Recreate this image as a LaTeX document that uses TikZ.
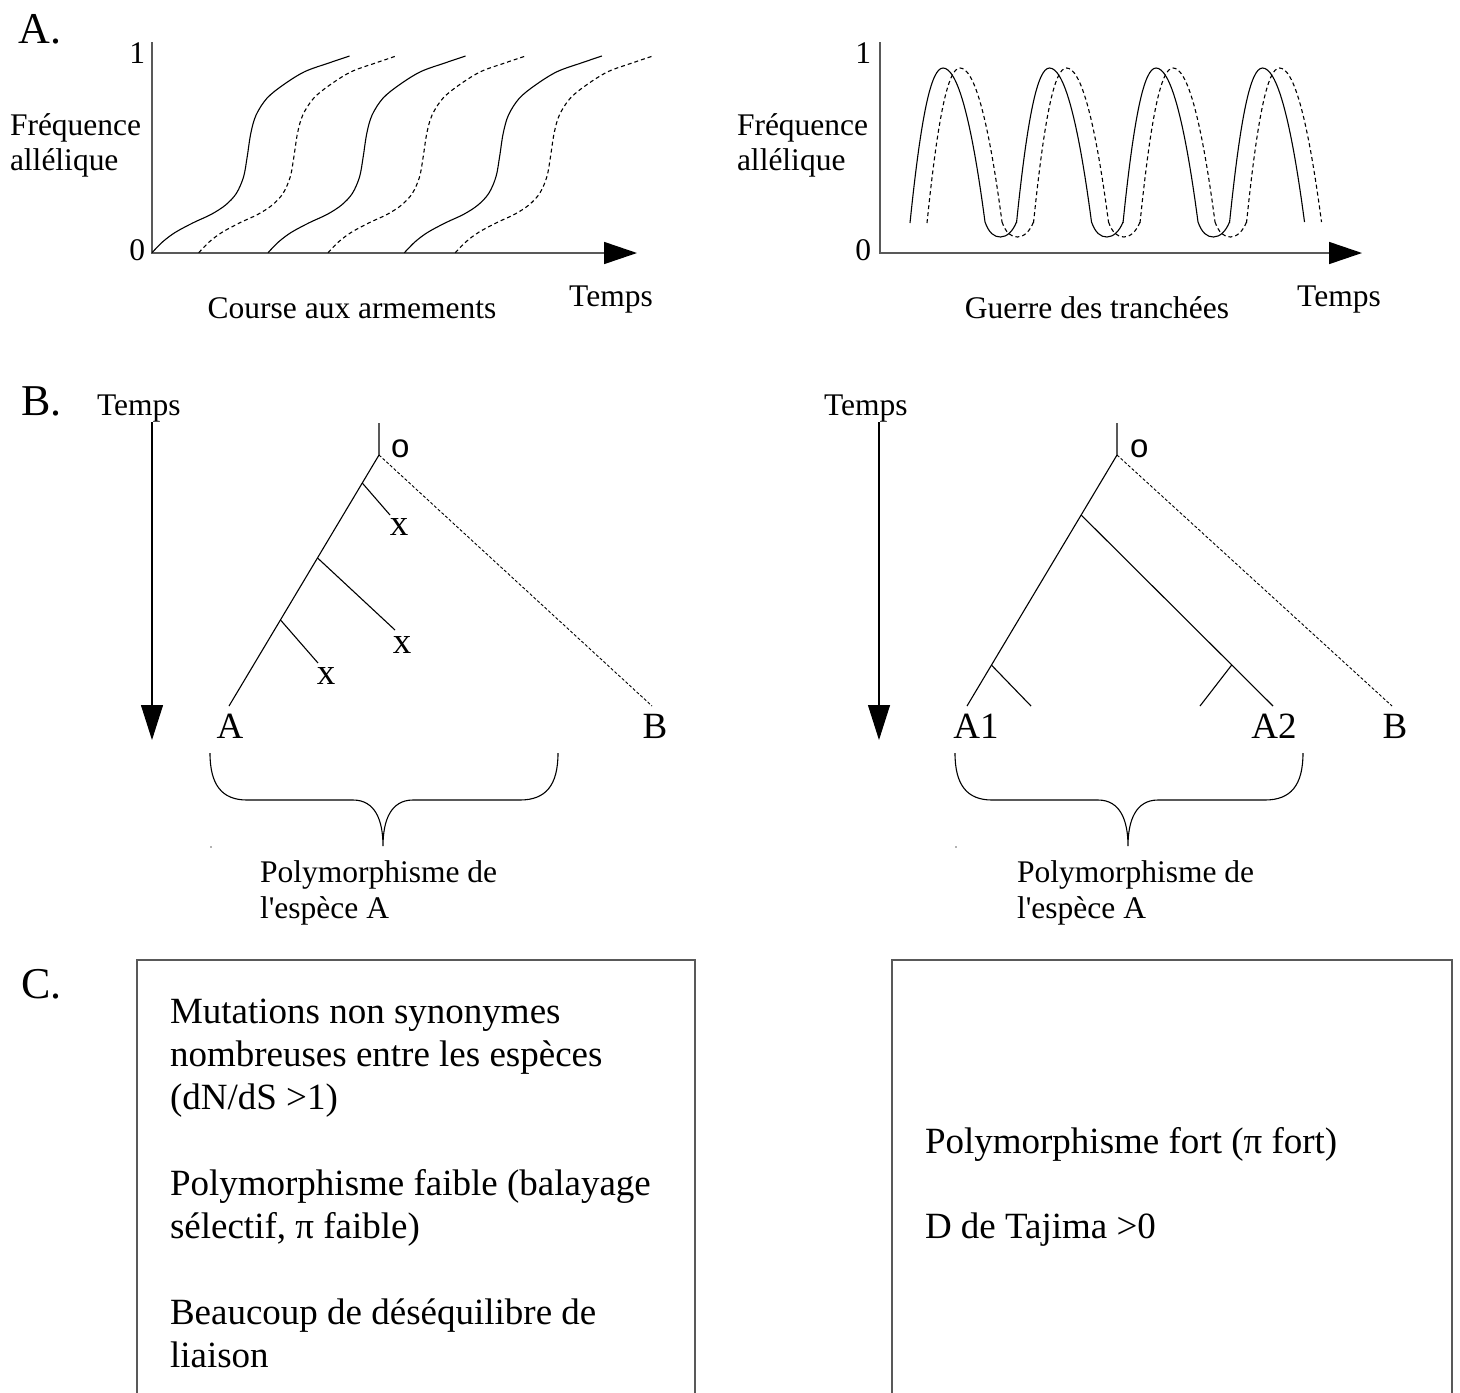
\documentclass[tikz,border=0pt]{standalone}
\usepackage{fontspec}
\setmainfont{Liberation Serif}[Ligatures=TeXOff]
\newfontfamily\osans{Liberation Sans}
\usetikzlibrary{arrows.meta,calc}
\begin{document}
\begin{tikzpicture}[x=1pt,y=-1pt,
 every node/.style={inner sep=0pt, outer sep=0pt},
 lbl/.style={font=\fontsize{31.5}{36}\selectfont},
 leaf/.style={font=\fontsize{37}{42}\selectfont, anchor=base},
 big/.style={font=\fontsize{44}{50}\selectfont, anchor=base west},
 btxt/.style={font=\fontsize{37}{43}\selectfont, anchor=base west},
 osym/.style={font=\osans\fontsize{33}{38}\selectfont, anchor=base west},
 axisln/.style={draw=black!65, line width=1.6pt},
 xarrow/.style={axisln, -{Triangle[length=33pt,width=22pt,color=black]}},
 crv/.style={draw=black, line width=1.1pt},
 dcrv/.style={crv, dash pattern=on 4pt off 3pt},
 tree/.style={draw=black, line width=1.1pt},
 dtree/.style={draw=black, line width=0.9pt, dash pattern=on 3pt off 2pt},
 tarrow/.style={draw=black, line width=1.1pt, -{Triangle[length=35pt,width=22pt]}},
 framebox/.style={draw=black!65, line width=1.6pt},
 brace/.style={draw=black, line width=1.1pt}]
\useasboundingbox (0,0) rectangle (1460,1393);

% ================= A =================
\node[big] (labA) at (19,43) {A.};
% left graph
\coordinate (TL) at (152,42);
\coordinate (OL) at (152,253);
\coordinate (XL) at (637,253);
\draw[xarrow] (TL) -- (OL) -- (XL);
\node[lbl, anchor=base east] (oneL) at (145,63) {1};
\node[lbl, anchor=base east] (zeroL) at (145,260) {0};
\node[lbl, anchor=base west] (freqL1) at (10,135) {Fréquence};
\node[lbl, anchor=base west] (freqL2) at (10,170) {allélique};
\node[lbl, anchor=base] (courseL) at (352,318) {Course aux armements};
\node[lbl, anchor=base] (tempsA1) at (611,306) {Temps};
\foreach \dx in {152,268,404.4}{
 \draw[crv, shift={(\dx,0)}] plot[smooth, tension=0.55] coordinates {(0,252.7) (10.8,241.7) (23.4,232.3) (41.3,222.7) (59.3,214.3) (73.6,205) (84.4,193.3) (91.6,176.7) (95.2,156.7) (98.8,133.3) (104.1,115) (114.9,98.3) (131.1,85) (152.6,71.7) (177.7,62.7) (197.5,56)};
}
\foreach \dx in {198.7,328,455.3}{
 \draw[dcrv, shift={(\dx,0)}] plot[smooth, tension=0.55] coordinates {(0,252.7) (10.8,241.7) (23.4,232.3) (41.3,222.7) (59.3,214.3) (73.6,205) (84.4,193.3) (91.6,176.7) (95.2,156.7) (98.8,133.3) (104.1,115) (114.9,98.3) (131.1,85) (152.6,71.7) (177.7,62.7) (197.5,56)};
}
% right graph
\coordinate (TR) at (880,42);
\coordinate (OR) at (880,253);
\coordinate (XR) at (1362,253);
\draw[xarrow] (TR) -- (OR) -- (XR);
\node[lbl, anchor=base east] (oneR) at (871,63) {1};
\node[lbl, anchor=base east] (zeroR) at (871,260) {0};
\node[lbl, anchor=base west] (freqR1) at (737,135) {Fréquence};
\node[lbl, anchor=base west] (freqR2) at (737,170) {allélique};
\node[lbl, anchor=base] (guerreR) at (1097,318) {Guerre des tranchées};
\node[lbl, anchor=base] (tempsA2) at (1339,306) {Temps};
\foreach \p in {943,1049.5,1156,1262.5}{
 \draw[crv] (\p-33,223) .. controls (\p-22,116) and (\p-12,68) .. (\p,68) .. controls (\p+14,68) and (\p+28,116) .. (\p+42,222);
}
\foreach \p in {943,1049.5,1156}{
 \draw[crv] (\p+42,222) .. controls (\p+46,233) and (\p+51,237) .. (\p+57.5,237) .. controls (\p+64,237) and (\p+70,231) .. (\p+73.5,222);
}
\foreach \p in {960,1066.5,1173,1279.5}{
 \draw[dcrv] (\p-33,223) .. controls (\p-22,116) and (\p-12,68) .. (\p,68) .. controls (\p+14,68) and (\p+28,116) .. (\p+42,222);
}
\foreach \p in {960,1066.5,1173}{
 \draw[dcrv] (\p+42,222) .. controls (\p+46,233) and (\p+51,237) .. (\p+57.5,237) .. controls (\p+64,237) and (\p+70,231) .. (\p+73.5,222);
}

% ================= B =================
\node[big] (labB) at (21,415) {B.};
% left tree
\node[lbl, anchor=base west] (tempsB1) at (97,415) {Temps};
\coordinate (tTopL) at (152,422);
\coordinate (tBotL) at (152,740);
\draw[tarrow] (tTopL) -- (tBotL);
\coordinate (stemL) at (379,423);
\coordinate (rootL) at (379,455);
\coordinate (leafA) at (229,706);
\coordinate (leafB) at (652,706);
\coordinate (b1) at ($(rootL)!0.1116!(leafA)$);
\coordinate (b2) at ($(rootL)!0.41!(leafA)$);
\coordinate (b3) at ($(rootL)!0.657!(leafA)$);
\coordinate (e1) at (390,515);
\coordinate (e2) at (395,630);
\coordinate (e3) at (318,663);
\draw[tree] (stemL) -- (rootL) -- (leafA);
\draw[tree] (b1) -- (e1);
\draw[tree] (b2) -- (e2);
\draw[tree] (b3) -- (e3);
\draw[dtree] (rootL) -- (leafB);
\node[osym] (oL) at (391,457) {o};
\node[leaf] (x1) at (399,535) {x};
\node[leaf] (x2) at (402,653) {x};
\node[leaf] (x3) at (326,684) {x};
\node[leaf] (lA) at (230,738) {A};
\node[leaf] (lB) at (655,738) {B};
% left brace
\draw[brace] (210,753) .. controls (210,785) and (222,800) .. (247,800) -- (353,800) .. controls (375,800) and (383,820) .. (383,846)
  .. controls (383,820) and (391,800) .. (413,800) -- (520,800) .. controls (546,800) and (558,785) .. (558,753);
\fill[black!60] (211,847) circle (0.8);
\node[lbl, anchor=base west] (polyL1) at (260,882) {Polymorphisme de};
\node[lbl, anchor=base west] (polyL2) at (260,918) {l'espèce A};

% right tree
\node[lbl, anchor=base west] (tempsB2) at (824,415) {Temps};
\coordinate (tTopR) at (879,422);
\coordinate (tBotR) at (879,740);
\draw[tarrow] (tTopR) -- (tBotR);
\coordinate (stemR) at (1117,423);
\coordinate (rootR) at (1117,455);
\coordinate (leafA1) at (967,706);
\coordinate (leafA2) at (1273,706);
\coordinate (leafBR) at (1392,706);
\coordinate (c1) at ($(rootR)!0.239!(leafA1)$);
\coordinate (c2) at ($(rootR)!0.837!(leafA1)$);
\coordinate (c3) at ($(c1)!0.785!(leafA2)$);
\coordinate (f2) at (1031,706);
\coordinate (f3) at (1200,706);
\draw[tree] (stemR) -- (rootR) -- (leafA1);
\draw[tree] (c1) -- (leafA2);
\draw[tree] (c2) -- (f2);
\draw[tree] (c3) -- (f3);
\draw[dtree] (rootR) -- (leafBR);
\node[osym] (oR) at (1130,457) {o};
\node[leaf] (lA1) at (976,738) {A1};
\node[leaf] (lA2) at (1274,738) {A2};
\node[leaf] (lBR) at (1395,738) {B};
% right brace
\begin{scope}[shift={(745,0)}]
\draw[brace] (210,753) .. controls (210,785) and (222,800) .. (247,800) -- (353,800) .. controls (375,800) and (383,820) .. (383,846)
  .. controls (383,820) and (391,800) .. (413,800) -- (520,800) .. controls (546,800) and (558,785) .. (558,753);
\fill[black!60] (211,847) circle (0.8);
\end{scope}
\node[lbl, anchor=base west] (polyR1) at (1017,882) {Polymorphisme de};
\node[lbl, anchor=base west] (polyR2) at (1017,918) {l'espèce A};

% ================= C =================
\node[big] (labC) at (21,998) {C.};
\draw[framebox] (137,1393) -- (137,960) -- (695,960) -- (695,1393);
\node[btxt] (m1) at (170,1023) {Mutations non synonymes};
\node[btxt] (m2) at (170,1066) {nombreuses entre les espèces};
\node[btxt] (m3) at (170,1109) {(dN/dS >1)};
\node[btxt] (p1) at (170,1195) {Polymorphisme faible (balayage};
\node[btxt] (p2) at (170,1238) {sélectif, π faible)};
\node[btxt] (d1) at (170,1324) {Beaucoup de déséquilibre de};
\node[btxt] (d2) at (170,1367) {liaison};
\draw[framebox] (892,1393) -- (892,960) -- (1452,960) -- (1452,1393);
\node[btxt] (r1) at (925,1153) {Polymorphisme fort (π fort)};
\node[btxt] (r2) at (925,1238) {D de Tajima >0};
\end{tikzpicture}
\end{document}
